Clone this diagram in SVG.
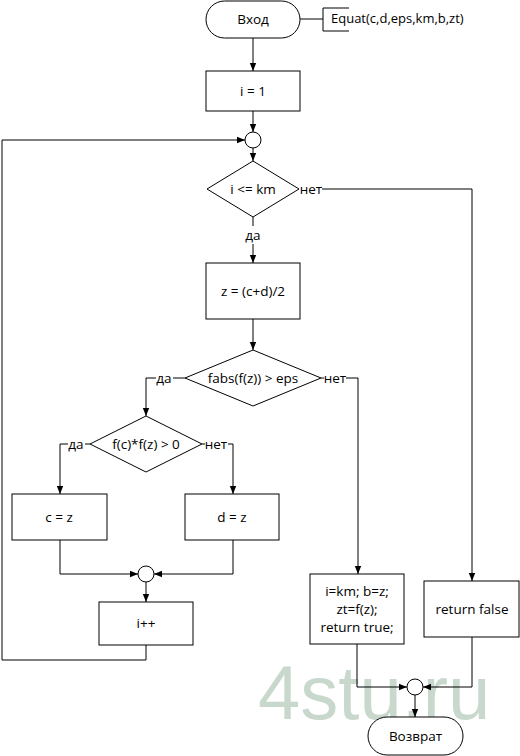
<svg xmlns="http://www.w3.org/2000/svg" width="520" height="756" viewBox="0 0 520 756">
<style>
.s{fill:#fff;stroke:#000;stroke-width:1}
.t{font-family:"Open Sans","Liberation Sans",sans-serif;font-size:13.5px;fill:#000;text-anchor:middle;dominant-baseline:central}
.l{fill:none;stroke:#000;stroke-width:1}
.a{fill:none;stroke:#000;stroke-width:1;marker-end:url(#ar)}
.wm{font-family:"Liberation Sans",Arial,sans-serif;font-size:76px;fill:#c9d8cd}
</style>
<defs>
<marker id="ar" viewBox="0 0 8 8" refX="8" refY="4" markerWidth="8" markerHeight="8" markerUnits="userSpaceOnUse" orient="auto">
<path d="M0,0.8 L8,4 L0,7.2 Z" fill="#000"/>
</marker>
</defs>
<rect width="520" height="756" fill="#fff"/>
<text class="wm" x="258" y="719">4stu.ru</text>
<g id="connectors">
<path class="l" d="M300,19 H323 M349,8 H323 V31 H349"/>
<path class="a" d="M253,38 V71"/>
<path class="a" d="M253,111 V132"/>
<path class="a" d="M253,148 V161"/>
<path class="l" d="M253,217 V226"/>
<path class="a" d="M253,244 V263"/>
<path class="l" d="M322,189 H472"/>
<path class="a" d="M472,189 V581"/>
<path class="a" d="M253,319 V350"/>
<path class="l" d="M185,378 H173"/>
<path class="a" d="M156,378 H146 V416"/>
<path class="l" d="M321,378 H324"/>
<path class="a" d="M346,378 H358 V574"/>
<path class="l" d="M90,444 H85"/>
<path class="a" d="M68,444 H60 V494"/>
<path class="l" d="M202,444 H205"/>
<path class="a" d="M228,444 H233 V494"/>
<path class="a" d="M60,540 V574 H138"/>
<path class="a" d="M233,540 V574 H154"/>
<path class="a" d="M146,582 V602"/>
<path class="a" d="M146,645 V660 H2 V140 H245"/>
<path class="a" d="M357,644 V687 H407"/>
<path class="a" d="M472,637 V687 H423"/>
<path class="a" d="M415,695 V717"/>
<text class="t" x="311" y="189">нет</text>
<text class="t" x="253" y="235">да</text>
<text class="t" x="164" y="378">да</text>
<text class="t" x="335" y="378">нет</text>
<text class="t" x="76" y="444">да</text>
<text class="t" x="216" y="444">нет</text>
<text class="t" x="331" y="18" style="text-anchor:start;font-size:13px">Equat(c,d,eps,km,b,zt)</text>
</g>
<g id="start"><rect class="s" x="206" y="1" width="94" height="37" rx="18.5"/><text class="t" x="253" y="19">Вход</text></g>
<g id="init"><rect class="s" x="206" y="71" width="94" height="40"/><text class="t" x="253" y="91">i = 1</text></g>
<g id="join1"><circle class="s" cx="253" cy="140" r="8"/></g>
<g id="cond1"><polygon class="s" points="253,161 299,189 253,217 207,189"/><text class="t" x="253" y="189">i &lt;= km</text></g>
<g id="mid"><rect class="s" x="206" y="263" width="94" height="56"/><text class="t" x="253" y="291">z = (c+d)/2</text></g>
<g id="cond2"><polygon class="s" points="253,350 321,378 253,406 185,378"/><text class="t" x="253" y="378">fabs(f(z)) &gt; eps</text></g>
<g id="cond3"><polygon class="s" points="146,416 202,444 146,472 90,444"/><text class="t" x="146" y="444">f(c)*f(z) &gt; 0</text></g>
<g id="cz"><rect class="s" x="12" y="494" width="95" height="46"/><text class="t" x="59" y="517">c = z</text></g>
<g id="dz"><rect class="s" x="185" y="494" width="94" height="46"/><text class="t" x="232" y="517">d = z</text></g>
<g id="join2"><circle class="s" cx="146" cy="574" r="8"/></g>
<g id="inc"><rect class="s" x="99" y="602" width="94" height="43"/><text class="t" x="146" y="623">i++</text></g>
<g id="rtrue"><rect class="s" x="310" y="574" width="94" height="70"/><text class="t" x="357" y="591">i=km; b=z;</text><text class="t" x="357" y="609">zt=f(z);</text><text class="t" x="357" y="627">return true;</text></g>
<g id="rfalse"><rect class="s" x="424" y="581" width="95" height="56"/><text class="t" x="472" y="609">return false</text></g>
<g id="join3"><circle class="s" cx="415" cy="687" r="8"/></g>
<g id="end"><rect class="s" x="368" y="717" width="95" height="38" rx="19"/><text class="t" x="415.5" y="736">Возврат</text></g>
</svg>
